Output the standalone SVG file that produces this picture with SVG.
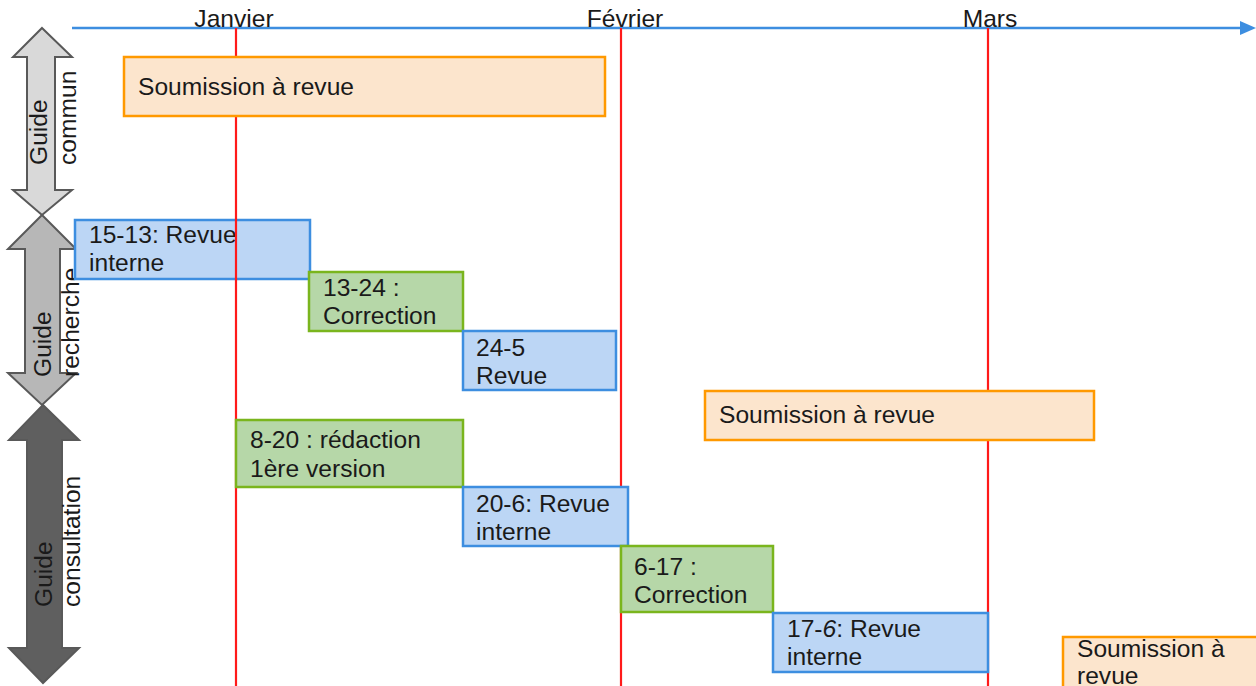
<svg xmlns="http://www.w3.org/2000/svg" width="1256" height="686" viewBox="0 0 1256 686">
<style>
text{font-family:"Liberation Sans",Arial,sans-serif;font-size:24.6px;fill:#1a1a1a}
.blue{fill:#bcd6f5;stroke:#3d8ee0;stroke-width:2.5}
.green{fill:#b6d7a8;stroke:#7ab51d;stroke-width:2.5}
.orange{fill:#fce5cd;stroke:#ff9900;stroke-width:2.5}
.red{stroke:#ff1a1a;stroke-width:2.2}
.arr{stroke:#595959;stroke-width:2;stroke-linejoin:miter}
</style>
<rect width="1256" height="686" fill="#ffffff"/>

<g id="timeline">
<line x1="72" y1="28" x2="1242" y2="28" stroke="#3d8ee0" stroke-width="2.5"/>
<path d="M1240,21 L1256,28 L1240,35 Z" fill="#3d8ee0"/>
<text x="234" y="27" text-anchor="middle">Janvier</text>
<text x="625" y="27" text-anchor="middle">Février</text>
<text x="990" y="27" text-anchor="middle">Mars</text>
</g>

<g id="lane-commun">
<path class="arr" d="M42,28 L72,57 L55,57 L55,190 L72,190 L42,215 L13,190 L27,190 L27,57 L13,57 Z" fill="#d9d9d9"/>
<text transform="translate(47,165) rotate(-90)">Guide<tspan x="0" y="29">commun</tspan></text>
</g>
<g id="lane-recherche">
<path class="arr" d="M42,215 L76,249 L60,249 L60,373 L76,373 L42,405 L8,373 L25,373 L25,249 L8,249 Z" fill="#b7b7b7"/>
<text transform="translate(51,377) rotate(-90)">Guide<tspan x="0" y="28">recherche</tspan></text>
</g>
<g id="lane-consultation">
<path class="arr" d="M43,405 L79,440 L62,440 L62,648 L79,648 L43,683 L9,648 L27,648 L27,440 L9,440 Z" fill="#5f5f5f"/>
<text transform="translate(52,607) rotate(-90)">Guide<tspan x="0" y="28">consultation</tspan></text>
</g>

<g id="n-15-13">
<rect class="blue" x="75" y="220" width="235" height="59"/>
<text x="89" y="243">15-13: Revue<tspan x="89" y="271">interne</tspan></text>
</g>

<g id="connectors">
<line class="red" x1="236" y1="28" x2="236" y2="686"/>
<line class="red" x1="621" y1="28" x2="621" y2="686"/>
<line class="red" x1="988" y1="28" x2="988" y2="686"/>
</g>

<g id="n-soumission-1">
<rect class="orange" x="124" y="57" width="481" height="59"/>
<text x="138" y="95">Soumission à revue</text>
</g>
<g id="n-13-24">
<rect class="green" x="309" y="272" width="154" height="59"/>
<text x="323" y="296">13-24 :<tspan x="323" y="324">Correction</tspan></text>
</g>
<g id="n-24-5">
<rect class="blue" x="463" y="331" width="153" height="59"/>
<text x="476" y="356">24-5<tspan x="476" y="384">Revue</tspan></text>
</g>
<g id="n-soumission-2">
<rect class="orange" x="705" y="391" width="389" height="49"/>
<text x="719" y="423">Soumission à revue</text>
</g>
<g id="n-8-20">
<rect class="green" x="236" y="420" width="227" height="67"/>
<text x="250" y="448">8-20 : rédaction<tspan x="250" y="477">1ère version</tspan></text>
</g>
<g id="n-20-6">
<rect class="blue" x="463" y="487" width="165" height="59"/>
<text x="476" y="512">20-6: Revue<tspan x="476" y="540">interne</tspan></text>
</g>
<g id="n-6-17">
<rect class="green" x="621" y="546" width="152" height="66"/>
<text x="634" y="575">6-17 :<tspan x="634" y="603">Correction</tspan></text>
</g>
<g id="n-17-6">
<rect class="blue" x="773" y="613" width="215" height="59"/>
<text x="787" y="637">17-<tspan font-style="italic">6</tspan>: Revue<tspan x="787" y="665">interne</tspan></text>
</g>
<g id="n-soumission-3">
<rect class="orange" x="1063" y="637" width="200" height="60"/>
<text x="1077" y="657">Soumission à<tspan x="1077" y="684">revue</tspan></text>
</g>
</svg>
